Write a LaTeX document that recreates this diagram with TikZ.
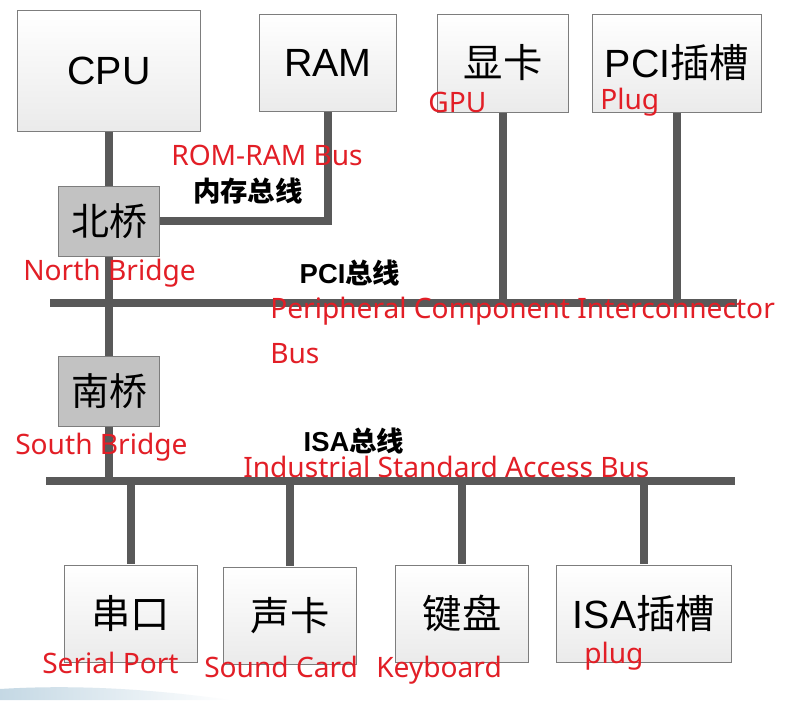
\documentclass[tikz,border=0pt]{standalone}
\usepackage{fontspec}
\setmainfont{Noto Sans}
\newfontfamily\cjk{Noto Sans CJK SC}
\newfontfamily\arialf{Liberation Sans}
\usetikzlibrary{backgrounds}
\definecolor{busgray}{RGB}{89,89,89}
\definecolor{boxline}{RGB}{125,125,125}
\definecolor{bridgegray}{RGB}{194,194,194}
\definecolor{labelred}{RGB}{226,30,38}
\definecolor{swoosh}{RGB}{196,216,228}

\begin{document}
\begin{tikzpicture}[x=0.025cm,y=-0.025cm,
   dev/.style={draw=boxline,line width=0.7pt,top color=white,bottom color=black!8,
      inner sep=0pt,font=\fontsize{28}{32}\selectfont},
   bridge/.style={draw=boxline,line width=0.7pt,fill=bridgegray,inner sep=0pt,
      minimum width=2.525cm,minimum height=1.75cm,font=\cjk\fontsize{27}{30}\selectfont},
   bus/.style={draw=busgray,line width=5.6pt},
   busname/.style={font=\fontsize{19.5}{22}\selectfont\bfseries,inner sep=0pt},
   lbl/.style={text=labelred,font=\fontsize{20}{24}\selectfont,inner sep=0pt,anchor=base west}]
  \begin{scope}[on background layer]
    \fill[white] (0,0) rectangle (792,700);
    \shade[left color=swoosh,right color=white] (0,700) -- (0,689)
          .. controls (80,684) and (160,690) .. (230,700) -- cycle;
  \end{scope}
  \useasboundingbox (0,0) rectangle (792,700);

  % devices on top
  \node[dev,minimum width=4.575cm,minimum height=3cm]     (cpu) at (109,71)  {\arialf CPU};
  \node[dev,minimum width=3.425cm,minimum height=2.425cm] (ram) at (328,63)  {\arialf RAM};
  \node[dev,minimum width=3.275cm,minimum height=2.45cm]  (gpu) at (503,63)  {\cjk 显卡};
  \node[dev,minimum width=4.2cm,minimum height=2.45cm]    (pcislot) at (677,63) {\arialf PCI\cjk 插槽};
  \node[bridge] (nb) at (109,221) {北桥};
  \node[bridge] (sb) at (109,391.5) {南桥};
  % devices at the bottom
  \node[dev,minimum width=3.3cm,minimum height=2.425cm]   (serial) at (131,613.5) {\cjk 串口};
  \node[dev,minimum width=3.325cm,minimum height=2.425cm] (sound) at (290,615.5) {\cjk 声卡};
  \node[dev,minimum width=3.3cm,minimum height=2.425cm]   (kbd) at (462,613.5) {\cjk 键盘};
  \node[dev,minimum width=4.35cm,minimum height=2.425cm]  (isaslot) at (644,613.5) {\arialf ISA\cjk 插槽};

  \coordinate (pcil) at (50,303);
  \coordinate (pcir) at (737,303);
  \coordinate (isal) at (46,481);
  \coordinate (isar) at (735,481);

  \begin{scope}[on background layer]
    \draw[bus] (cpu) -- (nb);
    \draw[bus] (nb) -- (sb);
    \draw[bus] (sb) -- (sb |- isal);
    \draw[bus] (nb.east) -| (ram.south);
    \draw[bus] (pcil) -- (pcir);
    \draw[bus] (gpu.south) -- (gpu.south |- pcil);
    \draw[bus] (pcislot.south) -- (pcislot.south |- pcil);
    \draw[bus] (isal) -- (isar);
    \foreach \d in {serial,sound,kbd,isaslot}
      \draw[bus] (\d.north) -- (\d.north |- isal);
  \end{scope}

  \node[busname] (memname) at (248,191) {\cjk 内存总线};
  \node[busname] (pciname) at (350,273) {\arialf PCI\cjk 总线};
  \node[busname] (isaname) at (354,441) {\arialf ISA\cjk 总线};

  % English notes
  \node[lbl] (gpulbl) at (428,112) {GPU};
  \node[lbl] (pluglbl) at (600,109) {Plug};
  \node[lbl] (memlbl) at (171,165) {ROM-RAM Bus};
  \node[lbl] (nblbl) at (23,280) {North Bridge};
  \node[lbl] (pcilbl) at (270,318) {Peripheral Component Interconnector};
  \node[lbl] (pcilbl2) at (270,363) {Bus};
  \node[lbl] (sblbl) at (15,454) {South Bridge};
  \node[lbl] (isalbl) at (243,477) {Industrial Standard Access Bus};
  \node[lbl] (seriallbl) at (42,673) {Serial Port};
  \node[lbl] (soundlbl) at (204,677) {Sound Card};
  \node[lbl] (kbdlbl) at (376,677) {Keyboard};
  \node[lbl] (isapluglbl) at (584,663) {plug};
\end{tikzpicture}
\end{document}
